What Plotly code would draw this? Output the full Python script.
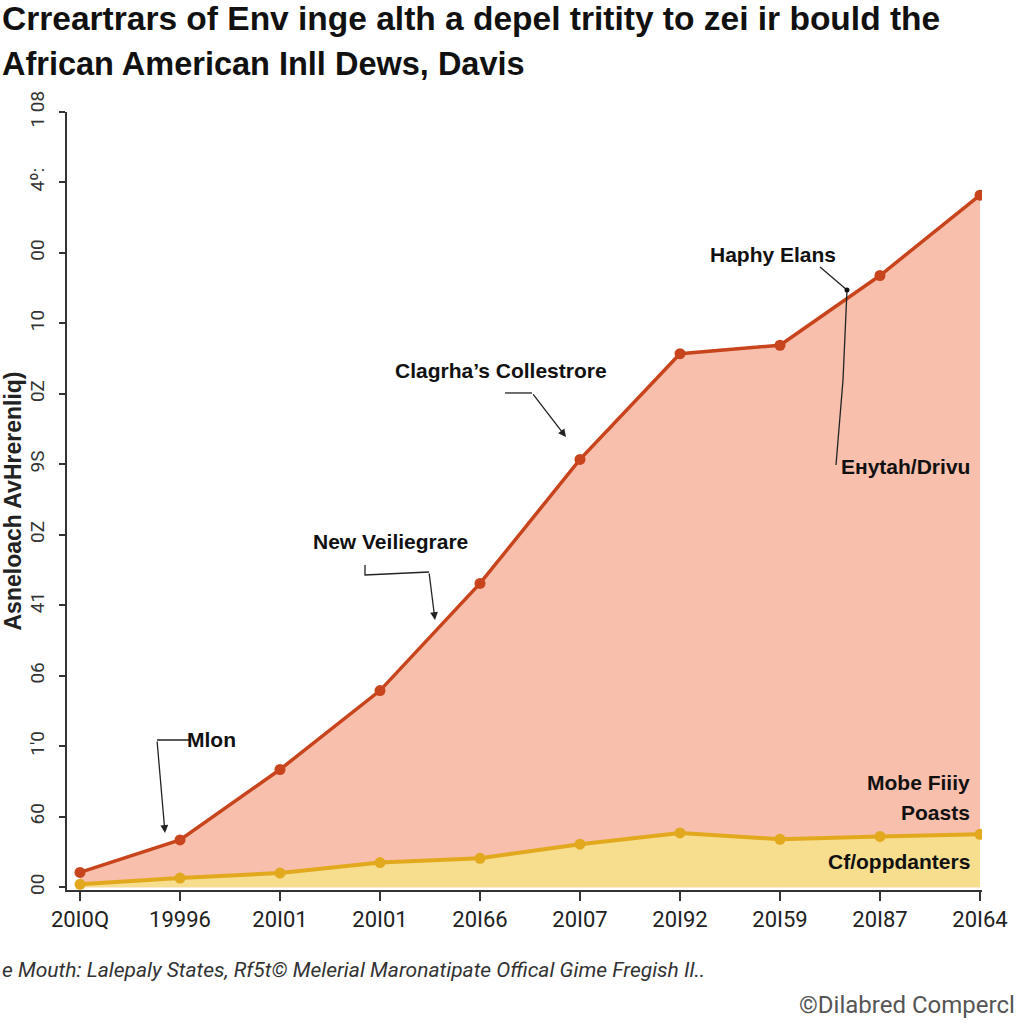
import plotly.graph_objects as go

# ---- data ----
x_idx = [0, 1, 2, 3, 4, 5, 6, 7, 8, 9]
x_labels = ["20I0Q", "19996", "20I01", "20I01", "20I66", "20I07", "20I92", "20I59", "20I87", "20I64"]
red_values = [0.21, 0.67, 1.67, 2.79, 4.31, 6.07, 7.57, 7.69, 8.68, 9.82]
yellow_values = [0.04, 0.13, 0.20, 0.35, 0.41, 0.61, 0.77, 0.68, 0.72, 0.75]
y_tickvals = [0, 1, 2, 3, 4, 5, 6, 7, 8, 9, 10, 11]
y_ticktext = ["00", "60", "1'0", "06", "41", "0Z", "9S", "0Z", "10", "00", "4º:", "1 08"]

title_line1 = "Crreartrars of Env inge alth a depel tritity to zei ir bould the"
title_line2 = "African American Inll Dews, Davis"
y_title = "Asneloach AvHrerenliq)"
source_text = "e Mouth: Lalepaly States, Rf5t© Melerial Maronatipate Offical Gime Fregish Il.."
credit_text = "©Dilabred Compercl"

RED = "#C8441C"
RED_FILL = "rgba(246,180,157,0.85)"
YEL = "#E2A91E"
YEL_FILL = "rgba(247,222,140,0.95)"

fig = go.Figure()
fig.add_trace(go.Scatter(
    x=x_idx, y=red_values, mode="lines+markers", fill="tozeroy",
    fillcolor=RED_FILL, line=dict(color=RED, width=3.5),
    marker=dict(color=RED, size=11), showlegend=False, hoverinfo="skip"))
fig.add_trace(go.Scatter(
    x=x_idx, y=yellow_values, mode="lines+markers", fill="tozeroy",
    fillcolor=YEL_FILL, line=dict(color=YEL, width=4),
    marker=dict(color=YEL, size=11), showlegend=False, hoverinfo="skip"))

# pixel -> data helpers for annotation placement
def px(xp):
    return (xp - 67) / 100.0 - 0.13

def py(yp):
    return (887.2 - yp) / 70.47

FONT = "Liberation Sans, Arial, sans-serif"

annotations = []
def label(text, xp, yp, anchor="center", size=21):
    annotations.append(dict(x=px(xp), y=py(yp), xref="x", yref="y", text="<b>" + text + "</b>",
                            showarrow=False, xanchor=anchor, yanchor="middle",
                            font=dict(family=FONT, size=size, color="#111")))

label("Haphy Elans", 773, 255)
label("Eнytah/Drivu", 905, 467, size=21)
label("Clagrha’s Collestrore", 501, 371)
label("New Veiliegrare", 390, 542)
label("Mlon", 211, 740)
label("Mobe Fiiiy", 972, 783, anchor="right")
label("Poasts", 972, 813, anchor="right")
label("Cf/oppdanters", 972, 862, anchor="right")

def arrow(x0, y0, x1, y1):
    annotations.append(dict(x=px(x1), y=py(y1), ax=px(x0), ay=py(y0), xref="x", yref="y",
                            axref="x", ayref="y", showarrow=True, arrowhead=2,
                            arrowsize=1.2, arrowwidth=1.3, arrowcolor="#222", text=""))

arrow(532, 393, 566, 437)
arrow(429, 572, 435, 620)
arrow(157, 740, 165, 833)

shapes = []
def path(points, width=1.3):
    d = "M " + " L ".join(f"{px(a)},{py(b)}" for a, b in points)
    shapes.append(dict(type="path", path=d, xref="x", yref="y",
                       line=dict(color="#222", width=width)))

path([(505, 393), (532, 393)])
path([(365, 565), (365, 575), (429, 572)])
path([(190, 740), (157, 740)])
path([(820, 267), (847, 290)])
path([(847, 290), (843, 380), (836, 465)])
shapes.append(dict(type="circle", xref="x", yref="y",
                   x0=px(844.5), x1=px(849.5), y0=py(292.5), y1=py(287.5),
                   fillcolor="#111", line=dict(color="#111", width=0)))

# titles & footers in paper coords (plot area: x 67..982, y 112..890)
def paper_x(xp):
    return (xp - 67) / 915.0

def paper_y(yp):
    return (890 - yp) / 778.0

annotations.append(dict(x=paper_x(0), y=paper_y(18), xref="paper", yref="paper",
                        text="<b>" + title_line1 + "</b>", showarrow=False,
                        xanchor="left", yanchor="middle",
                        font=dict(family=FONT, size=33.5, color="#111")))
annotations.append(dict(x=paper_x(0), y=paper_y(64), xref="paper", yref="paper",
                        text="<b>" + title_line2 + "</b>", showarrow=False,
                        xanchor="left", yanchor="middle",
                        font=dict(family=FONT, size=32.5, color="#111")))
annotations.append(dict(x=paper_x(0), y=paper_y(970), xref="paper", yref="paper",
                        text="<i>" + source_text + "</i>", showarrow=False,
                        xanchor="left", yanchor="middle",
                        font=dict(family="Roboto, Arial, sans-serif", size=21, color="#333")))
annotations.append(dict(x=paper_x(797), y=paper_y(1005), xref="paper", yref="paper",
                        text=credit_text, showarrow=False,
                        xanchor="left", yanchor="middle",
                        font=dict(family="Roboto, Arial, sans-serif", size=24, color="#555")))

fig.update_layout(
    width=1024, height=1024,
    margin=dict(l=67, r=42, t=112, b=134),
    paper_bgcolor="white", plot_bgcolor="white",
    annotations=annotations, shapes=shapes,
    xaxis=dict(range=[-0.13, 9.02], tickmode="array", tickvals=x_idx, ticktext=x_labels,
               automargin=False,
               showgrid=False, zeroline=False, showline=True, linecolor="#333", linewidth=1.5,
               ticks="outside", ticklen=9, tickcolor="#333", tickwidth=1.5,
               tickfont=dict(family="Roboto, Arial, sans-serif", size=22, color="#222")),
    yaxis=dict(range=[-0.04, 11], tickmode="array", tickvals=y_tickvals, ticktext=y_ticktext,
               automargin=False,
               tickangle=-90, showgrid=False, zeroline=False, showline=True, linecolor="#333",
               linewidth=1.5, ticks="outside", ticklen=6, tickcolor="#333", tickwidth=1.5,
               ticklabelstandoff=8,
               tickfont=dict(family="Roboto, Arial, sans-serif", size=19, color="#333"),
               title=dict(text="<b>" + y_title + "</b>", standoff=3,
                          font=dict(family=FONT, size=23, color="#222"))),
)

fig.write_html("out.html")
